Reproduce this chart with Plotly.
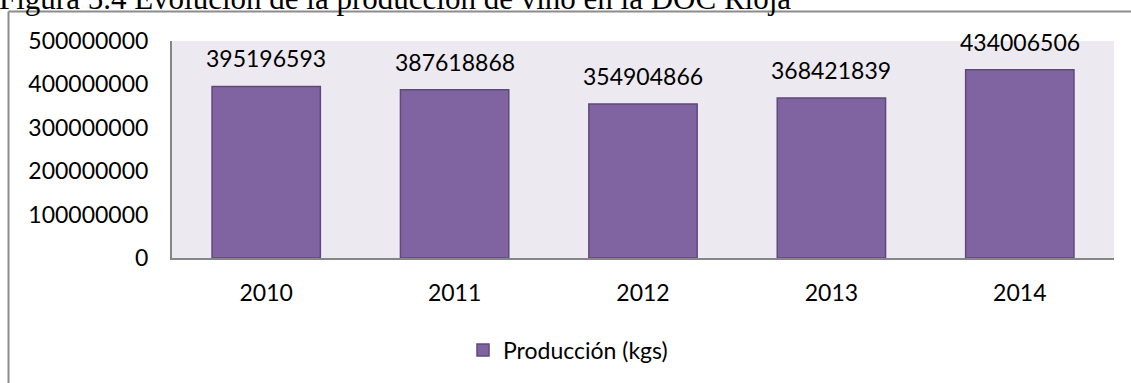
import plotly.graph_objects as go

years = ["2010", "2011", "2012", "2013", "2014"]
produccion = [395196593, 387618868, 354904866, 368421839, 434006506]
y_ticks = [0, 100000000, 200000000, 300000000, 400000000, 500000000]
series_name = "Producción (kgs)"
title_text = "Figura 5.4 Evolución de la producción de vino en la DOC Rioja"

FONT = "Lato"
W, H = 1131, 383
L, R, T, B = 172, 17, 41, 125
pw = W - L - R
ph = H - T - B

def px_x(p):
    return (p - L) / pw

def px_y(p):
    return (H - B - p) / ph

fig = go.Figure()
fig.add_trace(go.Bar(
    x=years, y=produccion, name=series_name,
    marker=dict(color="#8064A2", line=dict(color="#5E4A7A", width=1.5)),
    width=0.575, showlegend=True,
))

annotations = []
for i, v in enumerate(produccion):
    annotations.append(dict(
        x=i, y=v, xref="x", yref="y", text=str(v), showarrow=False,
        yanchor="bottom", yshift=12, font=dict(family=FONT, size=23, color="#000000"),
    ))
annotations.append(dict(
    x=px_x(-3), y=px_y(18), xref="paper", yref="paper",
    text=title_text, showarrow=False, xanchor="left", yanchor="bottom",
    font=dict(family="Liberation Serif", size=31, color="#000000"),
))

fig.update_layout(
    width=W, height=H,
    margin=dict(l=L, r=R, t=T, b=B, pad=0),
    paper_bgcolor="white",
    plot_bgcolor="#ECEAF0",
    bargap=0.425,
    font=dict(family=FONT, size=23, color="#000000"),
    xaxis=dict(
        type="category", range=[-0.5, len(years) - 0.5],
        categoryorder="array", categoryarray=years,
        showline=True, linecolor="#868686", linewidth=2,
        ticks="", showgrid=False, ticklabelstandoff=13,
        tickfont=dict(family=FONT, size=23),
    ),
    yaxis=dict(
        range=[0, 500000000], tickvals=y_ticks, ticktext=[str(t) for t in y_ticks],
        showline=True, linecolor="#868686", linewidth=2,
        ticks="", showgrid=False, zeroline=False, ticklabelstandoff=17,
        tickfont=dict(family=FONT, size=23),
    ),
    legend=dict(
        orientation="h", x=px_x(568), xanchor="center",
        y=px_y(350), yanchor="middle",
        font=dict(family=FONT, size=23), bgcolor="rgba(0,0,0,0)",
    ),
    annotations=annotations,
    shapes=[
        dict(type="line", xref="paper", yref="paper",
             x0=px_x(8.5), x1=px_x(W + 50),
             y0=px_y(11.5), y1=px_y(11.5),
             line=dict(color="#8C8C8C", width=2)),
        dict(type="line", xref="paper", yref="paper",
             x0=px_x(8.5), x1=px_x(8.5),
             y0=px_y(11.5), y1=px_y(H + 50),
             line=dict(color="#8C8C8C", width=2)),
    ],
)

fig.write_html("out.html")
